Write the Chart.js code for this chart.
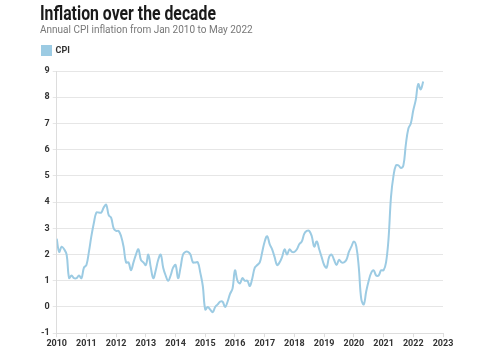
<!DOCTYPE html>
<html>
<head>
<meta charset="utf-8">
<script src="https://cdn.jsdelivr.net/npm/chart.js@4"></script>
<style>
  html, body { margin: 0; padding: 0; background: #fff; }
  #wrap { position: relative; width: 500px; height: 350px; }
  #title {
    position: absolute; left: 40px; top: 1px;
    font: bold 20px Roboto, sans-serif; color: #1a1a1a;
    transform: scaleX(0.79); transform-origin: left top;
    white-space: nowrap;
  }
  #subtitle {
    position: absolute; left: 40px; top: 24px;
    font: 10px Roboto, sans-serif; color: #777;
    white-space: nowrap;
  }
</style>
</head>
<body>
<div id="wrap">
  <canvas id="chart"></canvas>
  <div id="title">Inflation over the decade</div>
  <div id="subtitle">Annual CPI inflation from Jan 2010 to May 2022</div>
</div>
<script>
// monthly CPI, Jan 2010 .. May 2022
var cpi2010 = [2.6, 2.1, 2.3, 2.2, 2.0, 1.1, 1.2, 1.1, 1.1, 1.2, 1.1, 1.5];
var cpi2011 = [1.6, 2.1, 2.7, 3.2, 3.6, 3.6, 3.6, 3.8, 3.9, 3.5, 3.4, 3.0];
var cpi2012 = [2.9, 2.9, 2.7, 2.3, 1.7, 1.7, 1.4, 1.7, 2.0, 2.2, 1.8, 1.7];
var cpi2013 = [1.6, 2.0, 1.5, 1.1, 1.4, 1.8, 2.0, 1.5, 1.2, 1.0, 1.2, 1.5];
var cpi2014 = [1.6, 1.1, 1.5, 2.0, 2.1, 2.1, 2.0, 1.7, 1.7, 1.7, 1.3, 0.8];
var cpi2015 = [-0.1, 0.0, -0.1, -0.2, 0.0, 0.1, 0.2, 0.2, 0.0, 0.2, 0.5, 0.7];
var cpi2016 = [1.4, 1.0, 0.9, 1.1, 1.0, 1.0, 0.8, 1.1, 1.5, 1.6, 1.7, 2.1];
var cpi2017 = [2.5, 2.7, 2.4, 2.2, 1.9, 1.6, 1.7, 1.9, 2.2, 2.0, 2.2, 2.1];
var cpi2018 = [2.1, 2.2, 2.4, 2.5, 2.8, 2.9, 2.9, 2.7, 2.3, 2.5, 2.2, 1.9];
var cpi2019 = [1.6, 1.5, 1.9, 2.0, 1.8, 1.6, 1.8, 1.7, 1.7, 1.8, 2.1, 2.3];
var cpi2020 = [2.5, 2.3, 1.5, 0.3, 0.1, 0.6, 1.0, 1.3, 1.4, 1.2, 1.2, 1.4];
var cpi2021 = [1.4, 1.7, 2.6, 4.2, 5.0, 5.4, 5.4, 5.3, 5.4, 6.2, 6.8, 7.0];
var cpi2022 = [7.5, 7.9, 8.5, 8.3, 8.6];

var startYear = 2010;
var yTicks = [-1, 0, 1, 2, 3, 4, 5, 6, 7, 8, 9];

var cpi = [].concat(cpi2010, cpi2011, cpi2012, cpi2013, cpi2014, cpi2015, cpi2016,
  cpi2017, cpi2018, cpi2019, cpi2020, cpi2021, cpi2022);
var points = cpi.map(function (v, i) {
  return { x: startYear + i / 12, y: v };
});

var tickFont = { family: "Roboto", size: 9, weight: "bold" };

// a bit more room under the legend
var legendGap = {
  id: "legendGap",
  beforeInit: function (chart) {
    var fit = chart.legend.fit;
    chart.legend.fit = function () {
      fit.call(chart.legend);
      this.height += 6;
    };
  }
};

new Chart(document.getElementById("chart"), {
  type: "line",
  data: {
    datasets: [{
      label: "CPI",
      data: points,
      borderColor: "#9ccbe3",
      backgroundColor: "#9ccbe3",
      borderWidth: 2,
      pointRadius: 0,
      tension: 0.4,
      fill: false
    }]
  },
  options: {
    responsive: true,
    maintainAspectRatio: false,
    animation: false,
    layout: { padding: { left: 38, right: 57, top: 42, bottom: 0 } },
    plugins: {
      legend: {
        align: "start",
        labels: {
          boxWidth: 9,
          boxHeight: 9,
          color: "#333",
          font: { family: "Roboto", size: 9, weight: "bold" },
          padding: 4
        }
      },
      tooltip: { enabled: false }
    },
    scales: {
      x: {
        type: "linear",
        min: 2010,
        max: 2023,
        ticks: {
          stepSize: 1,
          color: "#333",
          font: tickFont,
          maxRotation: 0,
          padding: 1,
          callback: function (v) { return String(v); }
        },
        grid: { drawOnChartArea: false, drawTicks: true, tickLength: 4, color: "#ddd" },
        border: { color: "#ddd" }
      },
      y: {
        min: yTicks[0],
        max: yTicks[yTicks.length - 1],
        ticks: { stepSize: 1, color: "#333", font: tickFont, padding: 3 },
        grid: { color: "#e6e6e6", tickLength: 4 },
        border: { color: "#ddd" }
      }
    }
  },
  plugins: [legendGap]
});
</script>
</body>
</html>
